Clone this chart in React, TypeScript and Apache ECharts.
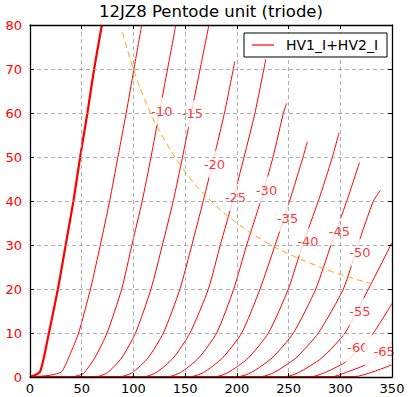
import React, { useEffect, useRef } from "react";
import * as echarts from "echarts";

const TITLE = "12JZ8 Pentode unit (triode)";
const LEGEND_NAME = "HV1_I+HV2_I";
const FONT = "DejaVu Sans";

// Plate voltage (V) / plate current (mA) points per grid voltage
const vg0 = [[0, 0], [9.7, 1.2], [18.3, 10], [27, 20], [34.5, 30], [42, 40], [48.5, 50], [55.5, 60], [62, 70], [69.5, 80]];
const vg5 = [[0, 0], [19.3, 0.4], [30.6, 1.2], [39, 5.3], [47, 10], [58.5, 20], [68, 30], [77, 40], [85, 50], [93, 60], [100.5, 70], [108, 80]];
const vg10 = [[0, 0], [42, 0.1], [51.6, 0.8], [63, 4.5], [74.5, 10], [88.7, 20], [98.5, 30], [108.5, 40], [117, 50], [125, 60], [133, 70], [141, 80]];
const vg15 = [[0, 0], [65, 0.1], [75, 1], [88.5, 4.3], [102, 10], [117, 20], [128, 30], [138.5, 40], [147.5, 50], [156, 60], [164.5, 70], [173, 80]];
const vg20 = [[0, 0], [88, 0.1], [99, 1], [114, 4.3], [129, 10], [145, 20], [156.5, 30], [167.5, 40], [178, 50], [188, 60], [198, 71.7]];
const vg25 = [[0, 0], [111, 0.1], [122, 1], [138.5, 4.3], [154.7, 10], [172.5, 20], [184, 30], [196, 40], [207, 50], [217.5, 60], [228, 72.2]];
const vg30 = [[0, 0], [134, 0.1], [145.5, 1], [163, 4.3], [180.5, 10], [197, 20], [209.5, 30], [223, 40], [235, 50], [245, 60], [248.2, 62.2]];
const vg35 = [[0, 0], [156, 0.1], [167.7, 1], [186, 4.3], [204.7, 10], [222.4, 20], [237, 30], [251, 40], [264, 50], [268.2, 53.5]];
const vg40 = [[0, 0], [180, 0.1], [191.5, 1], [211, 4.3], [230.5, 10], [249.8, 20], [263.5, 30], [278.8, 40], [292.4, 50], [298.8, 55.5]];
const vg45 = [[0, 0], [202, 0.1], [213.7, 1], [234, 4.3], [254.7, 10], [276.3, 20], [291, 30], [306.3, 40], [318.5, 48.7]];
const vg50 = [[0, 0], [224, 0.1], [235.8, 1], [257, 4.3], [278.8, 10], [303, 20], [317, 30], [332, 40], [339, 42.5]];
const vg55 = [[0, 0], [248, 0.1], [259.6, 1], [282, 4.3], [304.6, 10], [327.2, 20], [350, 30.5]];
const vg60 = [[0, 0], [273, 0.1], [285, 1], [303.7, 3.2], [318, 6.3], [332, 10], [350, 16.7]];
const vg65 = [[0, 0], [293, 0.1], [305, 1], [323.4, 2.7], [340, 5.7], [350, 8]];
const vg70 = [[0, 0], [315, 0.1], [328, 0.9], [345, 2.3], [350, 2.8]];

const thinCurves = [vg5, vg10, vg15, vg20, vg25, vg30, vg35, vg40, vg45, vg50, vg55, vg60, vg65, vg70];

// Inline contour labels
const labelText = ["-10", "-15", "-20", "-25", "-30", "-35", "-40", "-45", "-50", "-55", "-60", "-65"];
const labelX = [127.6, 157.1, 178.4, 198.7, 228.7, 249, 268.8, 299.2, 319, 319, 317, 340];
const labelY = [60.45, 59.8, 48.4, 40.8, 42.5, 36.1, 30.7, 33, 28.3, 14.8, 6.6, 5.8];

// Max plate dissipation curve
const pdV = [89.5, 100, 112.5, 125, 150, 175, 200, 225, 250, 275, 300, 329];
const pdI = [78.3, 70, 62.2, 56, 46.7, 40, 35, 31.1, 28, 25.5, 23.3, 21.3];

const X_MIN = 0, X_MAX = 350, X_STEP = 50;
const Y_MIN = 0, Y_MAX = 80, Y_STEP = 10;

export default function App() {
  const ref = useRef<HTMLDivElement>(null);
  useEffect(() => {
    if (!ref.current) return;
    const chart = echarts.init(ref.current, undefined, { renderer: "svg" });
    const axisLine = { show: true, onZero: false, lineStyle: { color: "#000", width: 1.3 } };
    const tick = { show: true, inside: true, length: 4, lineStyle: { color: "#000", width: 1 } };
    const split = { show: true, lineStyle: { color: "#9a9a9a", type: [4, 3], width: 0.8 } };
    const series: any[] = [];
    thinCurves.forEach((c) => {
      series.push({
        name: LEGEND_NAME, type: "line", data: c, symbol: "none", smooth: 0.2,
        lineStyle: { color: "#ff0000", width: 1 }, itemStyle: { color: "#ff0000" }, z: 2, silent: true,
      });
    });
    series.push({
      name: LEGEND_NAME, type: "line", data: vg0, symbol: "none", smooth: 0.2,
      lineStyle: { color: "#ff0000", width: 2.2 }, itemStyle: { color: "#ff0000" }, z: 2, silent: true,
    });
    series.push({
      name: "labels", type: "scatter", symbol: "circle", symbolSize: 1, z: 3, silent: true,
      itemStyle: { color: "rgba(0,0,0,0)" },
      label: {
        show: true, position: "inside", color: "#ff0000", fontSize: 13, fontFamily: FONT,
        backgroundColor: "#fff", padding: [7, 4, 7, 4],
      },
      data: labelX.map((x, i) => ({
        value: [x, labelY[i]],
        label: i === labelX.length - 1 ? { formatter: labelText[i], padding: [7, 4, 7, 9] } : { formatter: labelText[i] },
      })),
    });
    series.push({
      name: "Pd", type: "line", data: pdV.map((v, i) => [v, pdI[i]]), symbol: "none", smooth: true,
      lineStyle: { color: "#ffa500", width: 1, type: [6, 4] }, itemStyle: { color: "#ffa500" }, z: 4, silent: true,
    });
    chart.setOption({
      animation: false,
      textStyle: { fontFamily: FONT },
      title: {
        text: TITLE, left: 99, top: 3, padding: 0,
        textStyle: { fontSize: 16.5, fontWeight: "normal", color: "#000", fontFamily: FONT },
      },
      legend: {
        data: [{ name: LEGEND_NAME, icon: "rect", itemStyle: { color: "#ff0000" } }],
        left: 244, top: 33, z: 6, selectedMode: false,
        backgroundColor: "#fff", borderColor: "#000", borderWidth: 1, borderRadius: 0,
        padding: [5, 9, 5, 8], itemWidth: 22, itemHeight: 1.2,
        textStyle: { fontSize: 14, color: "#000", fontFamily: FONT, padding: [0, 0, 0, 7] },
      },
      grid: { left: 30, right: 16, top: 25, bottom: 20, containLabel: false },
      xAxis: [
        {
          type: "value", min: X_MIN, max: X_MAX, interval: X_STEP, position: "bottom", z: 5,
          axisLine, axisTick: tick, splitLine: split,
          axisLabel: { color: "#000", fontSize: 13, margin: 5, fontFamily: FONT },
        },
        {
          type: "value", min: X_MIN, max: X_MAX, interval: X_STEP, position: "top", z: 5,
          axisLine, axisTick: tick, splitLine: { show: false }, axisLabel: { show: false },
        },
      ],
      yAxis: [
        {
          type: "value", min: Y_MIN, max: Y_MAX, interval: Y_STEP, position: "left", z: 5,
          axisLine, axisTick: tick, splitLine: split,
          axisLabel: { color: "#ff0000", fontSize: 13, margin: 8, fontFamily: FONT },
        },
        {
          type: "value", min: Y_MIN, max: Y_MAX, interval: Y_STEP, position: "right", z: 5,
          axisLine, axisTick: tick, splitLine: { show: false }, axisLabel: { show: false },
        },
      ],
      series,
    });
    return () => chart.dispose();
  }, []);
  return <div ref={ref} style={{ position: "fixed", left: 0, top: 0, width: 408, height: 397, background: "#fff" }} />;
}
